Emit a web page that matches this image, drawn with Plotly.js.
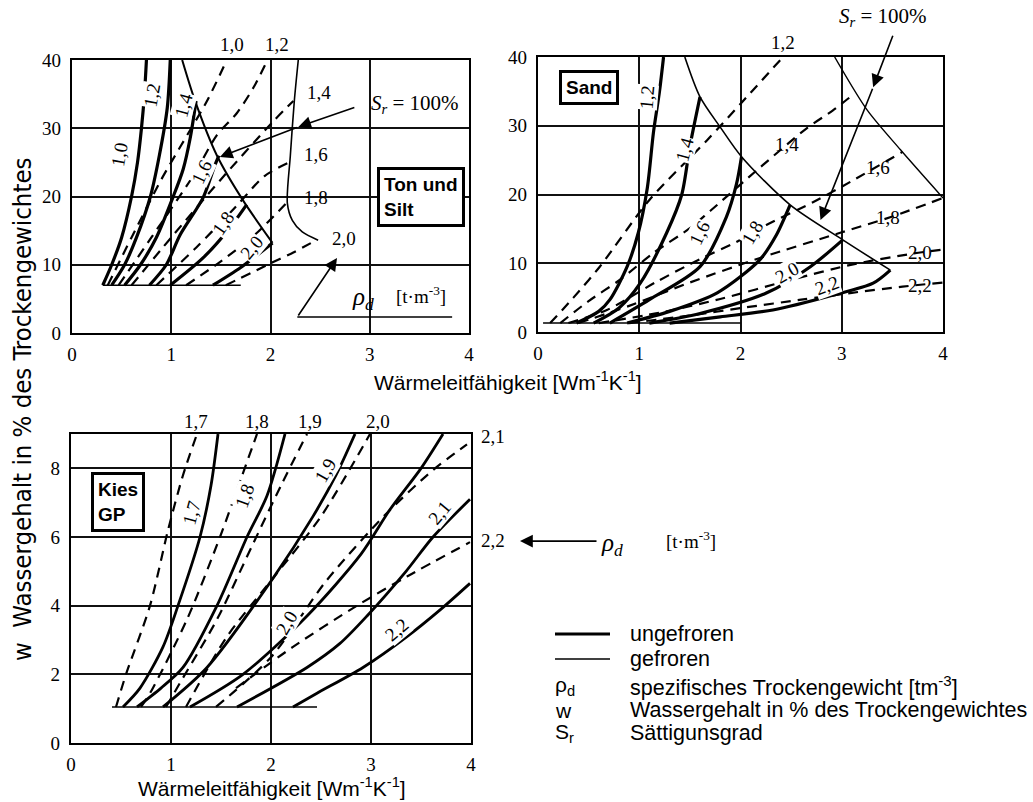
<!DOCTYPE html>
<html>
<head>
<meta charset="utf-8">
<script src="https://cdn.plot.ly/plotly-3.0.1.min.js"></script>
<style>html,body{margin:0;padding:0;background:#fff;}#chart{width:1033px;height:802px;}</style>
</head>
<body>
<div id="chart"></div>
<script>
// ---------- Ton und Silt (top left) ----------
const tonU10x = [0.31,0.40,0.50,0.60,0.66,0.70,0.73,0.75];
const tonU10y = [7,10,14,20,25,30,35,40];
const tonU12x = [0.40,0.53,0.65,0.79,0.88,0.96,0.99];
const tonU12y = [7,10,14,20,26,33,40];
const tonU14x = [0.53,0.69,0.85,1.02,1.12,1.19,1.25];
const tonU14y = [7,10,14,20,24,28.5,34];
const tonU16x = [0.78,0.95,1.09,1.32,1.44,1.48];
const tonU16y = [7,10,14.4,19.8,24.6,26];
const tonU18x = [0.99,1.32,1.59,1.76];
const tonU18y = [7,11,15.4,18.8];
const tonU20x = [1.42,1.70,2.02];
const tonU20y = [7,9.6,13.2];
const tonBaseX = [0.31,1.70];
const tonBaseY = [7,7];
const tonSrUx = [1.11,1.24,1.46,1.72,2.02];
const tonSrUy = [40,34,26,19.5,13.2];
const tonSrFx = [2.28,2.24,2.20,2.17,2.22,2.32,2.48];
const tonSrFy = [40,34,26,19,16.5,14.8,13.6];
const tonF10x = [0.36,0.60,0.90,1.10,1.36,1.56];
const tonF10y = [7,14,22.5,27.5,34,40];
const tonF12x = [0.47,0.80,1.22,1.46,1.66,1.83,1.97];
const tonF12y = [7,14,23,29,32.2,36,40];
const tonF14x = [0.60,1.00,1.50,2.02,2.23];
const tonF14y = [7,14,22.5,30.9,34];
const tonF16x = [0.85,1.25,1.65,1.94,2.19];
const tonF16y = [7,12.5,18.5,23,25];
const tonF18x = [1.15,1.50,1.85,2.17];
const tonF18y = [7,10.5,14.5,19.2];
const tonF20x = [1.55,2.00,2.23,2.46];
const tonF20y = [7,10.2,11.8,13.6];

// ---------- Sand (top right) ----------
const sandU12x = [0.38,0.60,0.71,0.88,0.99,1.08,1.14,1.20,1.24];
const sandU12y = [1.3,3,4.7,9.5,14.4,21,29,35,40];
const sandU14x = [0.55,0.80,1.01,1.27,1.42,1.50,1.60];
const sandU14y = [1.3,3.5,7.1,14.4,20,27,34.2];
const sandU16x = [0.71,1.10,1.60,1.86,1.96,2.01];
const sandU16y = [1.3,4.7,9.5,16.7,21.5,25.5];
const sandU18x = [0.88,1.30,1.77,2.19,2.35,2.49];
const sandU18y = [1.3,3,5.7,10.5,14,18.5];
const sandU20x = [1.10,1.60,2.26,2.69,3.01];
const sandU20y = [1.3,2.7,5.7,9.5,13.4];
const sandU22x = [1.30,1.80,2.32,2.90,3.31,3.48];
const sandU22y = [1.3,2.2,3.2,5.3,7.1,9.0];
const sandBaseX = [0.05,2.0];
const sandBaseY = [1.3,1.3];
const sandSrUx = [1.45,1.60,1.80,2.01,2.49,3.01,3.48];
const sandSrUy = [40,34.2,29.8,25.5,18.5,13.4,9.0];
const sandSrFx = [2.93,3.25,3.58,4.0];
const sandSrFy = [40,32.3,26.5,19.5];
const sandF12x = [0.12,0.35,0.61,1.10,1.67,2.05,2.42];
const sandF12y = [1.3,5,9.5,19.2,27.9,34,40];
const sandF14x = [0.22,0.50,0.81,1.14,1.50,1.70,2.19,2.66,2.91,3.11];
const sandF14y = [1.3,4.5,7.6,11.5,15.1,17.6,23.9,29.7,32.2,34.5];
const sandF16x = [0.30,0.68,1.17,1.60,1.96,2.26,2.72,3.08,3.60];
const sandF16y = [1.3,3.2,7.3,10.6,13.1,15.6,18.9,21.8,26.2];
const sandF18x = [0.40,0.90,1.50,2.20,3.00,3.50,4.00];
const sandF18y = [1.3,3.8,7.2,10.8,14.5,16.8,19.5];
const sandF20x = [0.60,1.20,1.80,2.50,3.10,3.70,4.00];
const sandF20y = [1.3,2.8,4.8,7.6,9.8,11.4,12.0];
const sandF22x = [0.90,1.50,2.06,2.60,3.10,3.60,4.00];
const sandF22y = [1.3,2.4,3.6,4.7,5.7,6.6,7.2];

// ---------- Kies GP (bottom) ----------
const kiesU17x = [0.52,0.69,0.92,1.07,1.29,1.40,1.47];
const kiesU17y = [1.05,1.6,2.8,4.0,6.0,7.5,9];
const kiesU18x = [0.66,0.90,1.12,1.46,1.76,1.96,2.14];
const kiesU18y = [1.05,1.6,2.2,4.0,6.0,7.2,9];
const kiesU19x = [0.92,1.36,2.02,2.42,2.65,2.84];
const kiesU19y = [1.05,2.2,4.8,6.6,7.8,9];
const kiesU20x = [1.19,1.72,2.36,2.90,3.19,3.50,3.72];
const kiesU20y = [1.05,2.0,3.7,5.5,6.8,8.0,9];
const kiesU21x = [1.66,2.36,2.69,2.96,3.35,3.62,3.99];
const kiesU21y = [1.05,2.2,2.9,3.7,5.0,6.0,7.1];
const kiesU22x = [2.22,2.46,2.92,3.36,3.70,3.99];
const kiesU22y = [1.05,1.45,2.2,3.1,3.9,4.65];
const kiesBaseX = [0.41,2.46];
const kiesBaseY = [1.05,1.05];
const kiesF17x = [0.45,0.55,0.79,0.97,1.12,1.26];
const kiesF17y = [1.05,2,4,6.2,7.8,9];
const kiesF18x = [0.70,0.79,1.16,1.49,1.70,1.86];
const kiesF18y = [1.05,1.45,3.6,6,7.7,9];
const kiesF19x = [0.95,1.09,1.46,1.82,2.10,2.36];
const kiesF19y = [1.05,1.75,3.6,5.8,7.5,9];
const kiesF20x = [1.15,1.56,2.02,2.50,2.99];
const kiesF20y = [1.05,3.1,4.8,6.6,9];
const kiesF21x = [1.45,2.00,2.56,3.16,3.62,3.96];
const kiesF21y = [1.05,2.5,4.75,6.7,7.95,8.7];
const kiesF22x = [1.65,2.22,2.86,3.36,3.99];
const kiesF22y = [1.6,2.8,4.0,4.85,5.85];

// ---------- tick labels & curve labels ----------
const xTickVals = [0,1,2,3,4];
const xTickText = ['0','1','2','3','4'];
const yTickValsTop = [0,10,20,30,40];
const yTickTextTop = ['0','10','20','30','40'];
const yTickValsBot = [0,2,4,6,8];
const yTickTextBot = ['0','2','4','6','8'];

const tonLblText = ['1,0','1,2','1,4','1,6','1,8','2,0','1,0','1,2','1,4','1,6','1,8','2,0'];
const tonLblX    = [0.48,0.81,1.12,1.31,1.52,1.81,1.61,2.07,2.49,2.46,2.46,2.74];
const tonLblY    = [26.1,34.9,33.4,23.6,16.1,12.5,42.3,42.3,35.3,26.1,19.8,13.9];
const tonLblRot  = [-80,-80,-75,-65,-55,-50,0,0,0,0,0,0];

const sandLblText = ['1,2','1,4','1,6','1,8','2,0','2,2','1,2','1,4','1,6','1,8','2,0','2,2'];
const sandLblX    = [1.08,1.45,1.60,2.12,2.46,2.85,2.42,2.46,3.36,3.46,3.77,3.77];
const sandLblY    = [34.2,26.5,14.4,14.4,8.7,6.8,42.1,27.2,23.9,16.6,11.5,6.8];
const sandLblRot  = [-85,-75,-65,-60,-30,-20,0,0,0,0,0,0];

const kiesLblText = ['1,7','1,8','1,9','2,0','2,1','2,2','1,7','1,8','1,9','2,0','2,1','2,2'];
const kiesLblX    = [1.21,1.74,2.54,2.16,3.69,3.26,1.25,1.86,2.39,3.07,4.22,4.22];
const kiesLblY    = [6.7,7.2,7.95,3.5,6.7,3.3,9.35,9.35,9.35,9.35,8.94,5.9];
const kiesLblRot  = [-75,-70,-60,-60,-50,-40,0,0,0,0,0,0];

const legendItems = ['ungefroren','gefroren'];
const legendSymbols = ['ρ<sub>d</sub>','w','S<sub>r</sub>'];
const legendTexts = ['spezifisches Trockengewicht [tm<sup>-3</sup>]','Wassergehalt in % des Trockengewichtes','Sättigunsgrad'];

// ---------- build ----------
const W = 1033, H = 802;
const px = v => v / W;
const py = v => 1 - v / H;
const SERIF = 'Liberation Serif, Times New Roman, serif';
const SANS = 'Liberation Sans, Arial, sans-serif';

// panel pixel frames
const PANELS = {
  x:  {l:72,  r:469, b:333, t:60,  xm:4, ym:40},
  x2: {l:538, r:943, b:332, t:57,  xm:4, ym:40},
  x3: {l:71,  r:471, b:743, t:434, xm:4, ym:9}
};
function pp(ax, x, y) {
  const P = PANELS[ax];
  return [px(P.l + x / P.xm * (P.r - P.l)), py(P.b - y / P.ym * (P.b - P.t))];
}

const traces = [];
function solid(x, y, ax, width) {
  traces.push({x, y, xaxis: ax[0], yaxis: ax[1], type: 'scatter', mode: 'lines',
    line: {color: '#000', width: width || 3.2, shape: 'spline', smoothing: 0.8}, hoverinfo: 'skip', showlegend: false});
}
function dashed(x, y, ax) {
  traces.push({x, y, xaxis: ax[0], yaxis: ax[1], type: 'scatter', mode: 'lines',
    line: {color: '#000', width: 2.2, dash: '10px,7px', shape: 'spline', smoothing: 0.8}, hoverinfo: 'skip', showlegend: false});
}
const A1 = ['x','y'], A2 = ['x2','y2'], A3 = ['x3','y3'];

[[tonU10x,tonU10y],[tonU12x,tonU12y],[tonU14x,tonU14y],[tonU16x,tonU16y],[tonU18x,tonU18y],[tonU20x,tonU20y]]
  .forEach(c => solid(c[0], c[1], A1));
solid(tonBaseX, tonBaseY, A1, 1.6);
solid(tonSrUx, tonSrUy, A1, 2.0);
solid(tonSrFx, tonSrFy, A1, 1.6);
[[tonF10x,tonF10y],[tonF12x,tonF12y],[tonF14x,tonF14y],[tonF16x,tonF16y],[tonF18x,tonF18y],[tonF20x,tonF20y]]
  .forEach(c => dashed(c[0], c[1], A1));

[[sandU12x,sandU12y],[sandU14x,sandU14y],[sandU16x,sandU16y],[sandU18x,sandU18y],[sandU20x,sandU20y],[sandU22x,sandU22y]]
  .forEach(c => solid(c[0], c[1], A2));
solid(sandBaseX, sandBaseY, A2, 1.6);
solid(sandSrUx, sandSrUy, A2, 1.6);
solid(sandSrFx, sandSrFy, A2, 1.4);
[[sandF12x,sandF12y],[sandF14x,sandF14y],[sandF16x,sandF16y],[sandF18x,sandF18y],[sandF20x,sandF20y],[sandF22x,sandF22y]]
  .forEach(c => dashed(c[0], c[1], A2));

[[kiesU17x,kiesU17y],[kiesU18x,kiesU18y],[kiesU19x,kiesU19y],[kiesU20x,kiesU20y],[kiesU21x,kiesU21y],[kiesU22x,kiesU22y]]
  .forEach(c => solid(c[0], c[1], A3, 2.8));
solid(kiesBaseX, kiesBaseY, A3, 1.6);
[[kiesF17x,kiesF17y],[kiesF18x,kiesF18y],[kiesF19x,kiesF19y],[kiesF20x,kiesF20y],[kiesF21x,kiesF21y],[kiesF22x,kiesF22y]]
  .forEach(c => dashed(c[0], c[1], A3));

function axisX(domain, anchor) {
  return {domain, anchor, range: [0,4], tickmode: 'array', tickvals: xTickVals, ticktext: xTickText,
    showgrid: true, gridcolor: '#111', gridwidth: 2, zeroline: false, showline: true, linecolor: '#000',
    linewidth: 2.2, mirror: true, ticks: '', ticklabelstandoff: 3, fixedrange: true,
    tickfont: {family: SERIF, size: 19, color: '#000'}};
}
function axisY(domain, anchor, range, vals, text) {
  return {domain, anchor, range, tickmode: 'array', tickvals: vals, ticktext: text,
    showgrid: true, gridcolor: '#111', gridwidth: 2, zeroline: false, showline: true, linecolor: '#000',
    linewidth: 2.2, mirror: true, ticks: '', ticklabelstandoff: 5, fixedrange: true,
    tickfont: {family: SERIF, size: 19, color: '#000'}};
}

const ann = [];
function lbl(xr, yr, texts, xs, ys, rots) {
  texts.forEach((t, i) => {
    const P = PANELS[xr];
    const inside = xs[i] >= 0 && xs[i] <= P.xm && ys[i] >= 0 && ys[i] <= P.ym;
    const base = {text: t, showarrow: false, textangle: rots[i], xanchor: 'center', yanchor: 'middle',
      bgcolor: rots[i] === 0 ? 'rgba(0,0,0,0)' : '#fff', borderpad: 0,
      font: {family: SERIF, size: 19, color: '#000'}};
    if (inside) {
      ann.push(Object.assign(base, {xref: xr, yref: yr, x: xs[i], y: ys[i]}));
    } else {
      const p = pp(xr, xs[i], ys[i]);
      ann.push(Object.assign(base, {xref: 'paper', yref: 'paper', x: p[0], y: p[1]}));
    }
  });
}
lbl('x','y', tonLblText, tonLblX, tonLblY, tonLblRot);
lbl('x2','y2', sandLblText, sandLblX, sandLblY, sandLblRot);
lbl('x3','y3', kiesLblText, kiesLblX, kiesLblY, kiesLblRot);

function box(xr, yr, x, y, text) {
  ann.push({xref: xr, yref: yr, x, y, text, showarrow: false, align: 'left', bgcolor: '#fff',
    xanchor: 'center', yanchor: 'middle',
    bordercolor: '#000', borderwidth: 3, borderpad: 4, font: {family: SANS, size: 19, color: '#000'}});
}
box('x','y', 3.52, 19.9, '<b>Ton und</b><br><b>Silt</b>');
box('x2','y2', 0.50, 35.5, '<b>Sand</b>');
box('x3','y3', 0.47, 7.02, '<b>Kies</b><br><b>GP</b>');

function arrow(xr, yr, x, y, axv, ayv) {
  ann.push({xref: xr, yref: yr, x, y, ax: axv, ay: ayv, axref: xr, ayref: yr, text: '', showarrow: true,
    arrowhead: 2, arrowsize: 1.6, arrowwidth: 1.6, arrowcolor: '#000', standoff: 0});
}
function ptext(ax, x, y, text, size, anchor) {
  const p = pp(ax, x, y);
  ann.push({xref: 'paper', yref: 'paper', x: p[0], y: p[1], text, showarrow: false,
    xanchor: anchor || 'center', yanchor: 'middle', font: {family: SERIF, size, color: '#000'}});
}
// Sr arrows
const srText = '<i>S<sub>r</sub></i> = 100%';
ptext('x', 3.46, 33.5, srText, 21);
arrow('x','y', 2.28, 30.2, 2.86, 33.1);
arrow('x','y', 1.49, 25.8, 2.28, 30.2);
ptext('x2', 3.41, 45.8, srText, 21);
arrow('x2','y2', 3.31, 35.6, 3.51, 43.3);
arrow('x2','y2', 2.79, 16.3, 3.31, 35.6);
// rho_d markers
const rhoText = '<i>ρ<sub>d</sub></i>';
const unitText = '[t·m<sup>-3</sup>]';
arrow('x','y', 2.67, 11.0, 2.27, 2.34);
ptext('x', 2.93, 5.0, rhoText, 25);
ptext('x', 3.52, 5.6, unitText, 19);
{
  const head = pp('x3', 4.49, 5.88);
  ann.push({xref:'paper', yref:'paper', x: head[0], y: head[1], ax: 78, ay: 0, axref:'pixel', ayref:'pixel',
    text:'', showarrow:true, arrowhead:2, arrowsize:1.6, arrowwidth:1.6, arrowcolor:'#000', standoff:0});
}
ptext('x3', 5.41, 5.78, rhoText, 25);
ptext('x3', 6.2, 5.92, unitText, 19);

// axis titles
const xTitle = 'Wärmeleitfähigkeit [Wm<sup>-1</sup>K<sup>-1</sup>]';
ann.push({xref:'paper', yref:'paper', x: px(508), y: py(381), xanchor:'center', yanchor:'middle', text: xTitle, showarrow:false, font:{family:SANS, size:21, color:'#000'}});
ann.push({xref:'paper', yref:'paper', x: px(272), y: py(787), xanchor:'center', yanchor:'middle', text: xTitle, showarrow:false, font:{family:SANS, size:21, color:'#000'}});
ann.push({xref:'paper', yref:'paper', x: px(22), y: py(410), xanchor:'center', yanchor:'middle',
  text: 'w  Wassergehalt in % des Trockengewichtes', textangle:-90,
  showarrow:false, font:{family:'Liberation Sans Narrow, DejaVu Sans Condensed, Liberation Sans, sans-serif', size:25.5, color:'#000'}});

// legend
const legY = [634, 659];
legendItems.forEach((t, i) => {
  ann.push({xref:'paper', yref:'paper', x: px(628), y: py(legY[i]), xanchor:'left', yanchor:'middle', text: t, showarrow:false,
    font:{family:SANS, size:21.5, color:'#000'}});
});
const legY2 = [686, 710, 733];
legendSymbols.forEach((t, i) => {
  ann.push({xref:'paper', yref:'paper', x: px(553), y: py(legY2[i]), xanchor:'left', yanchor:'middle', text: t, showarrow:false,
    font:{family:SANS, size:21, color:'#000'}});
  ann.push({xref:'paper', yref:'paper', x: px(628), y: py(legY2[i]), xanchor:'left', yanchor:'middle', text: legendTexts[i], showarrow:false,
    font:{family:SANS, size:21.5, color:'#000'}});
});

const shapes = [
  {type:'line', xref:'paper', yref:'paper', x0: px(555), x1: px(610), y0: py(634), y1: py(634), line:{color:'#000', width:3}},
  {type:'line', xref:'paper', yref:'paper', x0: px(555), x1: px(610), y0: py(659), y1: py(659), line:{color:'#000', width:1.6}},
  {type:'line', xref:'x', yref:'y', x0: 2.27, x1: 3.83, y0: 2.34, y1: 2.34, line:{color:'#000', width:1.6}}
];

const layout = {
  width: W, height: H, margin: {l:0, r:0, t:0, b:0}, paper_bgcolor:'#fff', plot_bgcolor:'#fff',
  showlegend: false,
  xaxis: axisX([px(72), px(469)], 'y'),
  yaxis: axisY([py(333), py(60)], 'x', [0,40], yTickValsTop, yTickTextTop),
  xaxis2: axisX([px(538), px(943)], 'y2'),
  yaxis2: axisY([py(332), py(57)], 'x2', [0,40], yTickValsTop, yTickTextTop),
  xaxis3: axisX([px(71), px(471)], 'y3'),
  yaxis3: axisY([py(743), py(434)], 'x3', [0,9], yTickValsBot, yTickTextBot),
  annotations: ann, shapes
};
Plotly.newPlot('chart', traces, layout, {staticPlot: true, displayModeBar: false});
</script>
</body>
</html>
